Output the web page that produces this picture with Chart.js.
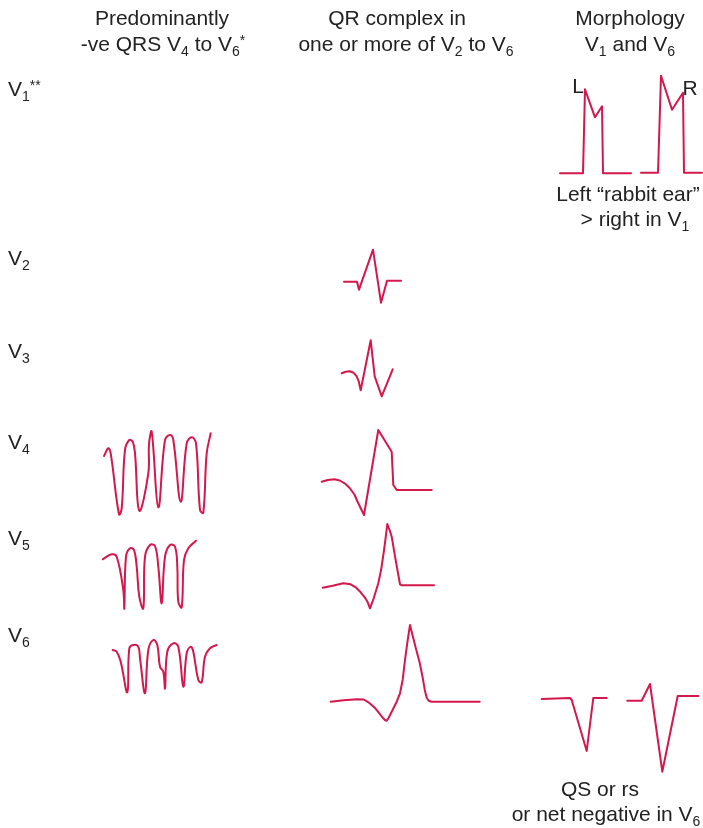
<!DOCTYPE html>
<html><head><meta charset="utf-8">
<script src="https://cdn.jsdelivr.net/npm/chart.js@4/dist/chart.umd.min.js"></script>
<style>
html,body{margin:0;padding:0;background:#fff;}
#wrap{position:relative;width:703px;height:828px;overflow:hidden;}
#c{position:absolute;left:0;top:0;}
.t{position:absolute;font-family:"Liberation Sans",Arial,sans-serif;font-size:21px;color:#222;white-space:nowrap;line-height:21px;height:21px;transform:translate(-50%,-50%);}
.l{transform:translate(0,-50%);}
.t sub{font-size:14px;vertical-align:-5px;line-height:0;}
.t sup{font-size:14px;vertical-align:6px;line-height:0;}
</style></head>
<body>
<div id="wrap">
<canvas id="c" width="703" height="828"></canvas>
<div class="t" style="left:162px;top:17px">Predominantly</div>
<div class="t" style="left:163px;top:43px">-ve QRS V<sub>4</sub> to V<sub>6</sub><sup>*</sup></div>
<div class="t" style="left:397px;top:17px">QR complex in</div>
<div class="t" style="left:406px;top:43px">one or more of V<sub>2</sub> to V<sub>6</sub></div>
<div class="t" style="left:630px;top:17px">Morphology</div>
<div class="t" style="left:630px;top:43px">V<sub>1</sub> and V<sub>6</sub></div>
<div class="t l" style="left:8px;top:88px">V<sub>1</sub><sup>**</sup></div>
<div class="t l" style="left:8px;top:257px">V<sub>2</sub></div>
<div class="t l" style="left:8px;top:350px">V<sub>3</sub></div>
<div class="t l" style="left:8px;top:441px">V<sub>4</sub></div>
<div class="t l" style="left:8px;top:537px">V<sub>5</sub></div>
<div class="t l" style="left:8px;top:634px">V<sub>6</sub></div>
<div class="t" style="left:578px;top:85px">L</div>
<div class="t" style="left:690px;top:87px">R</div>
<div class="t" style="left:628px;top:193px">Left “rabbit ear”</div>
<div class="t" style="left:635px;top:218px">&gt; right in V<sub>1</sub></div>
<div class="t" style="left:600px;top:788px">QS or rs</div>
<div class="t" style="left:606px;top:813px">or net negative in V<sub>6</sub></div>
</div>
<script>
// Waveform shapes: [time offset, amplitude (up positive)]
const v1LeftEar = [[0,0],[23,0],[25,84],[35,56],[42,67],[43,0],[71,0]];
const v1RightEar = [[0,0],[17,0],[20,97],[31,63],[42,80],[43,0],[61,0]];
const v2QR = [[0,0],[13,0],[15,-8],[29,32],[37,-21],[43,1],[57,1]];
const v3QR = [[0,0],[4,1.5],[8,2],[12,0.5],[15,-3],[17,-8],[19,-17],[29,33],[33,-3],[40,-23],[51,4]];
const v4QR = [[0,8.3],[6,10],[13,10.7],[18,9.5],[23,6.7],[28,2],[33,-5],[36,-12],[42.3,-25],[56.6,60],[70,38.3],[71.6,5],[75,0],[110,0]];
const v5QR = [[0,-2.4],[10,-0.5],[20.6,2],[28,1],[33,-2],[38,-7],[42,-12],[45,-17],[47.3,-23],[51,-13],[55.6,2],[58.5,16],[61.3,35],[63,48],[64.6,61.3],[67,55],[69,48.6],[73,25],[77.3,1],[79,0],[111.3,0]];
const v6QR = [[0,0],[13,1.5],[26,2.4],[33,2.2],[39,-1.5],[44,-6],[48,-11],[52,-16],[54.5,-18.5],[56,-19],[58,-16],[62,-8],[66,0],[69.3,8.4],[72,22],[74.3,41.7],[76.5,58],[79.3,76.7],[82,66],[85,54],[89,39],[92,24],[94,12],[96,4],[98,1],[101,0],[149,0]];
const v4Neg = [[0,0],[4.3,7.7],[6.7,2.7],[15,-58.3],[17.7,-52.3],[21,6],[25.3,16],[28.7,14.3],[31,2.7],[35.3,-54.7],[44.3,-17.3],[45,12],[47.7,24.3],[54.3,-51.3],[61,16],[66,21],[69.3,16],[76.7,-45.7],[82.7,12.7],[87.7,18.7],[92,12.7],[96,-54],[99.3,-56.7],[102.7,2.7],[106.7,22.7]];
const v5Neg = [[0,0],[9,5],[14,2.6],[20.6,-30.7],[21.6,-49],[23.3,2.6],[27.3,11],[31.3,9.3],[34,-7.4],[36.6,-37.4],[40.6,-49],[42.3,2.6],[47.3,14.3],[52.3,13.3],[55.6,-7.4],[59,-44],[62.3,2.6],[67.3,14.3],[72.3,12.6],[74.6,-7.4],[75.6,-42.4],[79,-48],[81.3,-0.7],[85.6,11],[93.3,18.6]];
const v6Neg = [[0,0],[4,-1.7],[8,-11.7],[14.6,-42.3],[16.6,1.7],[20.6,5],[25.6,3.3],[27.3,-8.3],[32.3,-43.3],[35.6,0],[40.6,10],[44.6,5],[47.3,-16.7],[50.6,-21.7],[52.3,-38.3],[54.6,-1.7],[60.6,6.7],[65.6,3.3],[70.6,-36.7],[74,-3.3],[78,3.3],[80.6,-1.7],[85.6,-30],[89,-32.3],[92.3,-6.7],[97.3,1.7],[104,5]];
const v6QS = [[0,-1],[28.3,0],[30,-2],[45,-53],[51.6,0],[65,0]];
const v6rs = [[0,-3],[14.4,-3],[22.7,13.7],[35,-74],[50.4,1.7],[71,1.7]];

// Layout: where each waveform sits on the page (x origin, baseline y) and its smoothing
const layoutSpec = [
  [v1LeftEar, 560, 173.3, 0],
  [v1RightEar, 641, 172.7, 0],
  [v2QR, 344, 281.7, 0],
  [v3QR, 341.7, 373.3, 0],
  [v4QR, 321.7, 490, 0],
  [v5QR, 322.7, 585.3, 0],
  [v6QR, 330.7, 701.7, 0],
  [v4Neg, 104, 456, 0.4],
  [v5Neg, 102.7, 559.3, 0.4],
  [v6Neg, 112.7, 650, 0.4],
  [v6QS, 541.7, 698, 0],
  [v6rs, 627.3, 697.7, 0]
];

const COLOR = '#d4174c';
const datasets = layoutSpec.map(([shape, x0, y0, tension]) => ({
  data: shape.map(([t, a]) => ({x: x0 + t, y: y0 - a})),
  showLine: true, pointRadius: 0, borderColor: COLOR, borderWidth: 2,
  tension: tension, fill: false, clip: false,
  borderJoinStyle: 'round', borderCapStyle: 'round'
}));

new Chart(document.getElementById('c'), {
  type: 'scatter',
  data: {datasets},
  options: {
    responsive: false, animation: false, events: [],
    layout: {padding: 0},
    plugins: {legend: {display: false}, tooltip: {enabled: false}},
    scales: {
      x: {type: 'linear', min: 0, max: 703, display: false},
      y: {type: 'linear', min: 0, max: 828, reverse: true, display: false}
    }
  }
});
</script>
</body></html>
